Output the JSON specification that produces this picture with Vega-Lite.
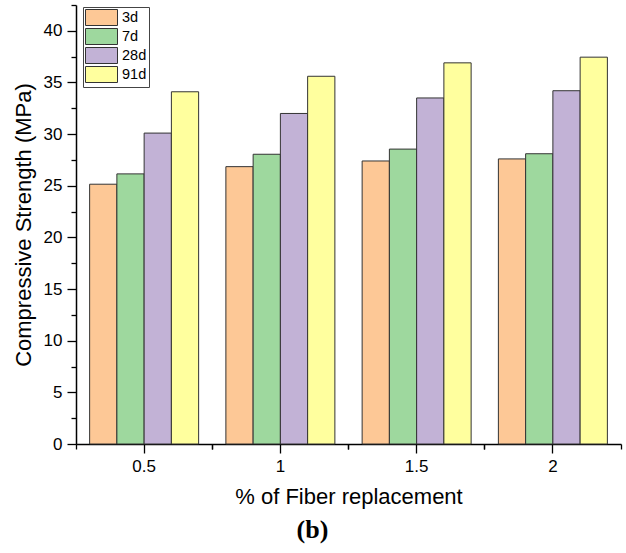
{
  "$schema": "https://vega.github.io/schema/vega-lite/v6.json",
  "width": 545,
  "height": 439,
  "autosize": {"type": "none"},
  "padding": {"left": 76, "top": 5, "right": 5, "bottom": 109},
  "config": {"view": {"stroke": null}, "font": "Liberation Sans"},
  "title": {"text": "(b)", "orient": "bottom", "font": "Liberation Serif", "fontSize": 26, "fontWeight": "bold", "color": "black", "offset": 10, "dx": -36},
  "data": {"values": [
    {"fiber": "0.5", "age": "3d", "strength": 25.15},
    {"fiber": "0.5", "age": "7d", "strength": 26.15},
    {"fiber": "0.5", "age": "28d", "strength": 30.1},
    {"fiber": "0.5", "age": "91d", "strength": 34.1},
    {"fiber": "1", "age": "3d", "strength": 26.85},
    {"fiber": "1", "age": "7d", "strength": 28.05},
    {"fiber": "1", "age": "28d", "strength": 32.0},
    {"fiber": "1", "age": "91d", "strength": 35.6},
    {"fiber": "1.5", "age": "3d", "strength": 27.4},
    {"fiber": "1.5", "age": "7d", "strength": 28.55},
    {"fiber": "1.5", "age": "28d", "strength": 33.5},
    {"fiber": "1.5", "age": "91d", "strength": 36.9},
    {"fiber": "2", "age": "3d", "strength": 27.6},
    {"fiber": "2", "age": "7d", "strength": 28.1},
    {"fiber": "2", "age": "28d", "strength": 34.2},
    {"fiber": "2", "age": "91d", "strength": 37.45}
  ]},
  "layer": [
    {
      "mark": {"type": "bar", "stroke": "#333333", "strokeWidth": 1},
      "encoding": {
        "x": {"field": "fiber", "type": "ordinal", "sort": null,
          "scale": {"paddingInner": 0.2, "paddingOuter": 0.1},
          "axis": {"orient": "bottom", "title": "% of Fiber replacement", "titleFontSize": 22, "titleFontWeight": "normal", "titleColor": "black", "titlePadding": 12,
            "labelAngle": 0, "labelFontSize": 17, "labelColor": "black", "labelPadding": 5,
            "tickSize": 9, "tickColor": "black", "tickWidth": 1.3, "domainColor": "black", "domainWidth": 1.5, "grid": false}},
        "xOffset": {"field": "age", "type": "nominal", "sort": ["3d", "7d", "28d", "91d"], "scale": {"paddingInner": 0, "paddingOuter": 0}},
        "y": {"field": "strength", "type": "quantitative",
          "scale": {"domain": [0, 42.5], "nice": false, "zero": true},
          "axis": {"title": "Compressive Strength (MPa)", "titleFontSize": 22, "titleFontWeight": "normal", "titleColor": "black", "titlePadding": 8,
            "values": [0, 2.5, 5, 7.5, 10, 12.5, 15, 17.5, 20, 22.5, 25, 27.5, 30, 32.5, 35, 37.5, 40, 42.5],
            "labelExpr": "datum.value % 5 === 0 ? datum.label : ''",
            "labelFontSize": 17, "labelColor": "black", "labelPadding": 5,
            "tickSize": {"condition": {"test": "datum.value % 5 === 0", "value": 9}, "value": 5},
            "tickColor": "black", "tickWidth": 1.3, "domainColor": "black", "domainWidth": 1.5, "grid": false}},
        "color": {"field": "age", "type": "nominal",
          "scale": {"domain": ["3d", "7d", "28d", "91d"], "range": ["#FDC896", "#9ED89E", "#C2B2D6", "#FFFF9E"]},
          "legend": {"orient": "none", "legendX": 7, "legendY": 2, "title": null, "padding": 2,
            "strokeColor": "#444444", "fillColor": "white",
            "symbolType": "M-1,-1H3V1H-1Z", "symbolSize": 256, "symbolStrokeColor": "#333333", "symbolStrokeWidth": 1, "symbolOpacity": 1,
            "labelFontSize": 14.5, "labelColor": "black", "labelOffset": 20, "rowPadding": -2, "labelFont": "Liberation Sans"}}
      }
    },
    {
      "mark": {"type": "bar", "opacity": 0},
      "encoding": {
        "x": {"field": "fiber", "type": "ordinal", "sort": null,
          "scale": {"paddingInner": 0.2, "paddingOuter": 0.1},
          "axis": {"orient": "bottom", "title": null, "labels": false, "domain": false, "ticks": true, "tickSize": 5, "tickColor": "black", "tickWidth": 1.3, "bandPosition": -0.125, "grid": false}}
      }
    },
    {
      "mark": {"type": "bar", "opacity": 0},
      "encoding": {
        "x": {"field": "fiber", "type": "ordinal", "sort": null,
          "scale": {"paddingInner": 0.2, "paddingOuter": 0.1},
          "axis": {"orient": "bottom", "title": null, "labels": false, "domain": false, "ticks": true, "tickSize": 5, "tickColor": "black", "tickWidth": 1.3, "bandPosition": 1.125, "grid": false}}
      }
    }
  ],
  "resolve": {"axis": {"x": "independent"}}
}
